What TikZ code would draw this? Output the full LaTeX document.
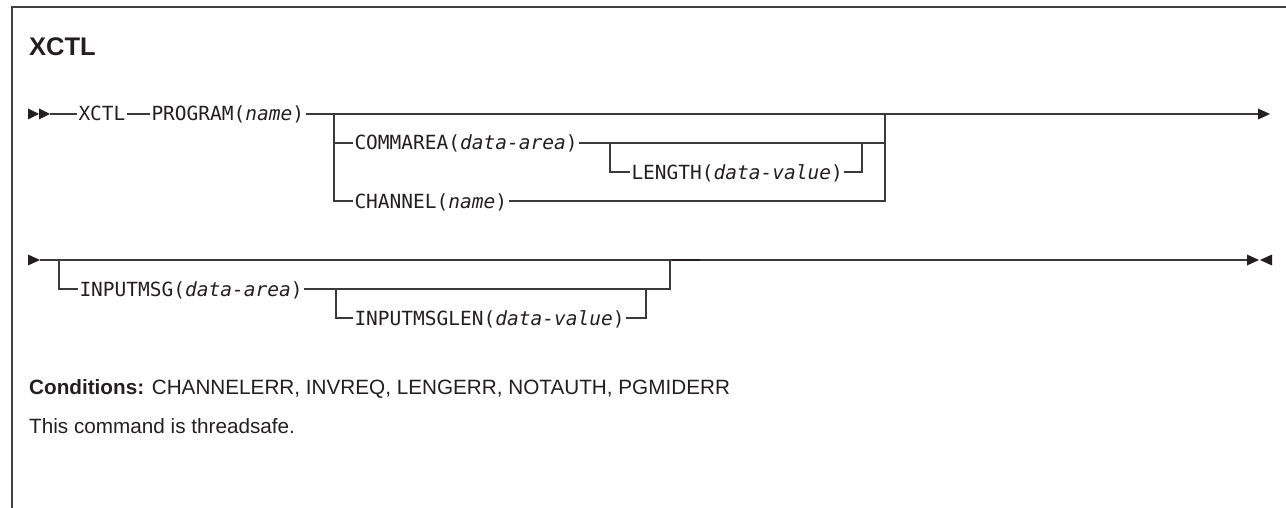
\documentclass[tikz,border=0pt]{standalone}
\usepackage{fontspec}
\setmainfont{Liberation Sans}
\newfontfamily\synfont{DejaVu Sans Mono}
\usetikzlibrary{calc}
\definecolor{ink}{HTML}{231F20}
\definecolor{rulec}{HTML}{3A3A3A}
\begin{document}
\begin{tikzpicture}[x=1pt,y=-1pt,
  kw/.style={anchor=west, inner sep=0pt, outer sep=1.5pt, font=\synfont\fontsize{19.5}{20}\selectfont, text height=14pt, text depth=0pt, text=ink},
  ln/.style={draw=rulec, line width=1.2pt},
  tip/.style={fill=ink, draw=none},
  txt/.style={anchor=base west, inner sep=0pt, text=ink}]

\useasboundingbox (0,0) rectangle (1286,508);
\draw[line width=1.2pt, draw=black!75] (1286,7) -- (12,7) -- (12,508);

\node[txt, font=\bfseries\fontsize{25.5}{28}\selectfont] (title) at (29,56) {XCTL};

% row 1
\fill[tip] (28,108.5) -- (39,114) -- (28,119.5) -- cycle;
\fill[tip] (39,108.5) -- (50,114) -- (39,119.5) -- cycle;
\coordinate (s1) at (50,114);
\node[kw] (xctl) at (77,114) {XCTL};
\node[kw] (prog) at (150,114) {PROGRAM(\textit{name})};
\coordinate (b1) at (334,114);
\coordinate (j1) at (885,114);
\coordinate (e1) at (1258,114);
\draw[ln] (s1) -- (xctl);
\draw[ln] (xctl) -- (prog);
\draw[ln] (prog) -- (b1) -- (j1) -- (e1);
\fill[tip] (1258,108.5) -- (1270,114) -- (1258,119.5) -- cycle;

\node[kw] (comm) at (353,143) {COMMAREA(\textit{data-area})};
\coordinate (b2) at (610,143);
\coordinate (j2) at (862,143);
\node[kw] (len) at (630,172) {LENGTH(\textit{data-value})};
\node[kw] (chan) at (353,201) {CHANNEL(\textit{name})};

\draw[ln] (b1) |- (chan);
\draw[ln] (b1 |- comm) -- (comm);
\draw[ln] (comm) -- (b2) -- (j1 |- comm);
\draw[ln] (chan) -- (j1 |- chan) -- (j1);
\draw[ln] (b2) |- (len);
\draw[ln] (len) -| (j2);

% row 2
\fill[tip] (28,254.5) -- (40,260) -- (28,265.5) -- cycle;
\coordinate (s2) at (40,260);
\coordinate (b3) at (59,260);
\coordinate (j3) at (670,260);
\coordinate (e2) at (1247,260);
\node[kw] (imsg) at (78,289) {INPUTMSG(\textit{data-area})};
\coordinate (b4) at (336,289);
\coordinate (j4) at (646,289);
\node[kw] (imlen) at (353,318) {INPUTMSGLEN(\textit{data-value})};
\draw[ln] (s2) -- (e2);
\draw[line width=1.8pt, draw=ink] (672,260) -- (700,260);
\draw[ln] (b3) |- (imsg);
\draw[ln] (imsg) -- (j3 |- imsg) -- (j3);
\draw[ln] (b4) |- (imlen);
\draw[ln] (imlen) -| (j4);
\fill[tip] (1247,254.5) -- (1259,260) -- (1247,265.5) -- cycle;
\fill[tip] (1272,254.5) -- (1260,260) -- (1272,265.5) -- cycle;

\node[txt, font=\fontsize{20.7}{24}\selectfont] (cond) at (29,394) {\textbf{Conditions:} CHANNELERR, INVREQ, LENGERR, NOTAUTH, PGMIDERR};
\node[txt, font=\fontsize{20.7}{24}\selectfont] (thread) at (29,433) {This command is threadsafe.};
\end{tikzpicture}
\end{document}
